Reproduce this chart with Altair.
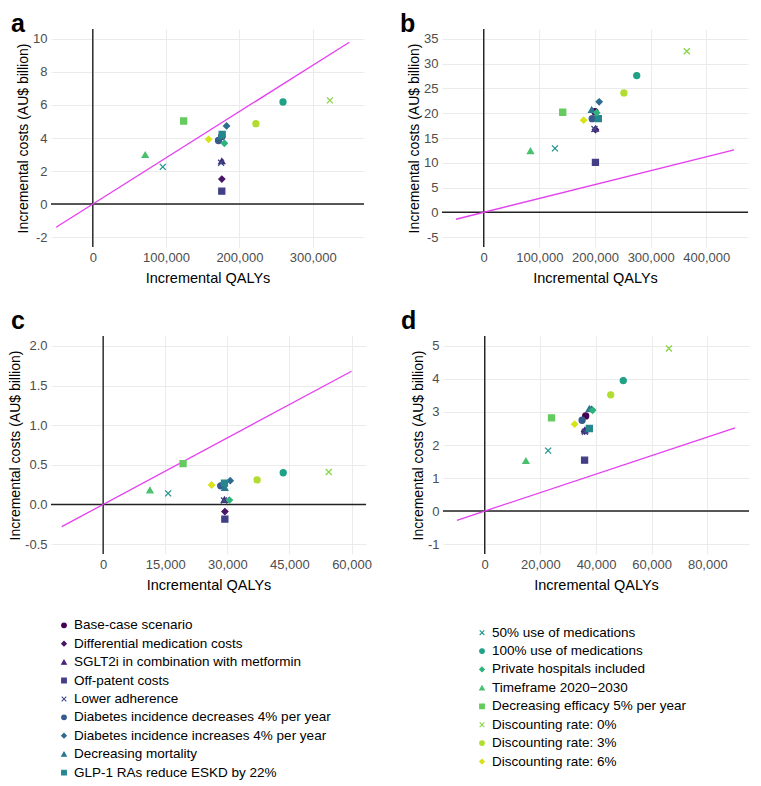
import altair as alt
import pandas as pd

scenarios = [
    "Base-case scenario",
    "Differential medication costs",
    "SGLT2i in combination with metformin",
    "Off-patent costs",
    "Lower adherence",
    "Diabetes incidence decreases 4% per year",
    "Diabetes incidence increases 4% per year",
    "Decreasing mortality",
    "GLP-1 RAs reduce ESKD by 22%",
    "50% use of medications",
    "100% use of medications",
    "Private hospitals included",
    "Timeframe 2020\u22122030",
    "Decreasing efficacy 5% per year",
    "Discounting rate: 0%",
    "Discounting rate: 3%",
    "Discounting rate: 6%",
]

# Panel a
a_qaly = [176000, 176000, 176000, 176000, 175000, 171500, 182500, 174500, 176500,
          95500, 259500, 179500, 71500, 124000, 323500, 222500, 158000]
a_cost = [4.10, 1.51, 2.60, 0.78, 2.50, 3.85, 4.73, 4.10, 4.22,
          2.25, 6.18, 3.68, 2.98, 5.03, 6.28, 4.87, 3.92]
# Panel b
b_qaly = [200000, 200800, 200800, 200800, 199000, 195000, 207500, 194000, 206000,
          128000, 275000, 203000, 84000, 142000, 365000, 252000, 179500]
b_cost = [20.3, 16.7, 16.9, 10.1, 16.8, 18.9, 22.3, 20.7, 18.9,
          12.9, 27.6, 20.1, 12.4, 20.2, 32.5, 24.1, 18.6]
# Panel c
c_qaly = [29000, 29400, 29300, 29400, 29200, 28400, 30700, 29400, 29300,
          15700, 43500, 30500, 11300, 19300, 54500, 37200, 26200]
c_cost = [0.24, -0.09, 0.06, -0.185, 0.05, 0.235, 0.30, 0.21, 0.27,
          0.14, 0.40, 0.055, 0.18, 0.515, 0.41, 0.31, 0.245]
# Panel d
d_qaly = [36300, 35900, 36000, 35900, 36000, 35000, 38400, 37600, 37600,
          22800, 49800, 38800, 14800, 24000, 66200, 45300, 32300]
d_cost = [2.88, 2.42, 2.45, 1.54, 2.40, 2.75, 3.08, 3.10, 2.50,
          1.83, 3.95, 3.05, 1.52, 2.82, 4.92, 3.52, 2.63]

# Willingness-to-pay threshold (AU$ per QALY) and line extents
WTP = 28000
a_line = [-50000, 350000]
b_line = [-50000, 450000]
c_line = [-10000, 60000]
d_line = [-10000, 90000]

a_xticks = [0, 100000, 200000, 300000]
b_xticks = [0, 100000, 200000, 300000, 400000]
c_xticks = [0, 15000, 30000, 45000, 60000]
d_xticks = [0, 20000, 40000, 60000, 80000]
a_yticks = [-2, 0, 2, 4, 6, 8, 10]
b_yticks = [-5, 0, 5, 10, 15, 20, 25, 30, 35]
c_yticks = [-0.5, 0.0, 0.5, 1.0, 1.5, 2.0]
d_yticks = [-1, 0, 1, 2, 3, 4, 5]

colors = ["#440154", "#481467", "#482576", "#433e85", "#3e4c8a", "#365c8d",
          "#2f6b8e", "#297a8e", "#24878e", "#1f958b", "#1fa287", "#2eb37c",
          "#48c16e", "#65cb5e", "#89d548", "#b0dd2f", "#d8e219"]
XPATH = "M-1,-1L1,1M-1,1L1,-1"
base_shapes = ["circle", "diamond", "triangle-up", "square", XPATH]
shapes = [base_shapes[i % 5] for i in range(len(scenarios))]

FONT = "Liberation Sans"
LINE_COLOR = "#e53ff0"

color_scale = alt.Scale(domain=scenarios, range=colors)
shape_scale = alt.Scale(domain=scenarios, range=shapes)


def panel(label, qaly, cost, line_x, xdom, ydom, xticks, yticks, yfmt, w, h, lab_dx, lab_dy):
    df = pd.DataFrame({"scenario": scenarios, "qaly": qaly, "cost": cost})
    ldf = pd.DataFrame({"qaly": line_x, "cost": [x * WTP / 1e9 for x in line_x]})
    zdf = pd.DataFrame({"qaly": [0], "cost": [0], "label": [label]})
    x = alt.X("qaly:Q", scale=alt.Scale(domain=xdom, nice=False, zero=False),
              axis=alt.Axis(values=xticks, format=",d", title="Incremental QALYs"))
    y = alt.Y("cost:Q", scale=alt.Scale(domain=ydom, nice=False, zero=False),
              axis=alt.Axis(values=yticks, format=yfmt,
                            labelExpr="replace(datum.label, '\u2212', '-')",
                            title="Incremental costs (AU$ billion)"))
    vrule = alt.Chart(zdf).mark_rule(color="#222222", strokeWidth=1.4).encode(x=x)
    hrule = alt.Chart(zdf).mark_rule(color="#222222", strokeWidth=1.4).encode(y=y)
    line = alt.Chart(ldf).mark_line(color=LINE_COLOR, strokeWidth=1.3).encode(x=x, y=y)
    pts = alt.Chart(df).mark_point(filled=True, size=36, opacity=1, strokeWidth=1.3).encode(
        x=x, y=y,
        fill=alt.Fill("scenario:N", scale=color_scale, legend=None),
        stroke=alt.Stroke("scenario:N", scale=color_scale, legend=None),
        shape=alt.Shape("scenario:N", scale=shape_scale, legend=None),
    )
    tag = alt.Chart(zdf).mark_text(align="left", baseline="alphabetic", fontSize=25,
                                   fontWeight="bold", font=FONT, color="black").encode(
        x=alt.value(lab_dx), y=alt.value(lab_dy), text="label:N")
    return alt.layer(vrule, hrule, line, pts, tag).properties(width=w, height=h)


H = 218
pa = panel("a", a_qaly, a_cost, a_line, [-57000, 370000], [-2.6, 10.6], a_xticks, a_yticks, "d", 313, H, -40, 3)
pb = panel("b", b_qaly, b_cost, b_line, [-75000, 475000], [-7, 37], b_xticks, b_yticks, "d", 306, H, -42, 3)
pc = panel("c", c_qaly, c_cost, c_line, [-12600, 63500], [-0.625, 2.125], c_xticks, c_yticks, ".1f", 315, H, -40, -7)
pd_ = panel("d", d_qaly, d_cost, d_line, [-15000, 95000], [-1.3, 5.3], d_xticks, d_yticks, "d", 306, H, -42, -7)

# Legend built from the same scales: two columns (9 + 8 items)
n_left = 9
leg = pd.DataFrame({
    "scenario": scenarios,
    "col": [0 if i < n_left else 1 for i in range(len(scenarios))],
    "row": [i if i < n_left else (i - n_left) + 0.4 for i in range(len(scenarios))],
})
lx = alt.X("col:Q", scale=alt.Scale(domain=[-0.0311, 1.6196], nice=False, zero=False), axis=None)
ly = alt.Y("row:Q", scale=alt.Scale(domain=[-0.45, 8.35], nice=False, zero=False, reverse=True), axis=None)
leg_pts = alt.Chart(leg).mark_point(filled=True, size=22, opacity=1, strokeWidth=1.1).encode(
    x=lx, y=ly,
    fill=alt.Fill("scenario:N", scale=color_scale, legend=None),
    stroke=alt.Stroke("scenario:N", scale=color_scale, legend=None),
    shape=alt.Shape("scenario:N", scale=shape_scale, legend=None),
)
leg_txt = alt.Chart(leg).mark_text(align="left", baseline="middle", dx=10, fontSize=13.5,
                                   font=FONT, color="black").encode(x=lx, y=ly, text="scenario:N")
legend = alt.layer(leg_pts, leg_txt).properties(width=690, height=162)

chart = alt.vconcat(
    alt.hconcat(pa, pb, spacing=35),
    alt.vconcat(alt.hconcat(pc, pd_, spacing=29), legend, spacing=25),
    spacing=24,
).properties(
    padding={"left": 0, "top": 4, "right": 0, "bottom": 0}
).configure_view(stroke=None).configure_axis(
    domain=False, ticks=False, grid=True, gridColor="#ebebeb", gridWidth=1,
    labelFont=FONT, labelFontSize=13, labelColor="#4d4d4d", labelPadding=4,
    titleFont=FONT, titleFontWeight="normal", titleColor="black",
).configure_axisX(titlePadding=7, titleFontSize=14.5).configure_axisY(titlePadding=2, titleFontSize=14)

chart.save("out.html", embed_options={"renderer": "svg", "actions": False})
